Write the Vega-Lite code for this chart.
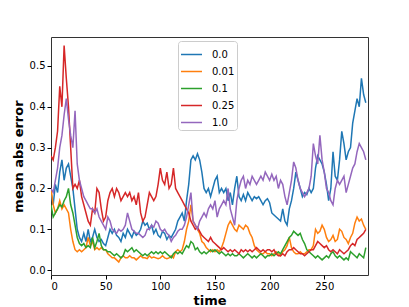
{
"$schema":"https://vega.github.io/schema/vega-lite/v6.json",
"width":317,"height":238,
"autosize":{"type":"none"},
"padding":{"left":51,"top":37,"right":41,"bottom":32},
"config":{"font":"DejaVu Sans","view":{"stroke":"#333","strokeWidth":1},"background":"white"},
"data":{"values":[
{"t":0,"a":0.19,"b":0.2,"c":0.16,"d":0.28,"e":0.2},
{"t":2,"a":0.16,"b":0.16,"c":0.13,"d":0.27,"e":0.19},
{"t":4,"a":0.21,"b":0.14,"c":0.14,"d":0.3,"e":0.22},
{"t":6,"a":0.19,"b":0.15,"c":0.15,"d":0.34,"e":0.25},
{"t":8,"a":0.24,"b":0.17,"c":0.16,"d":0.45,"e":0.3},
{"t":10,"a":0.27,"b":0.15,"c":0.155,"d":0.4,"e":0.33},
{"t":12,"a":0.22,"b":0.16,"c":0.17,"d":0.55,"e":0.38},
{"t":14,"a":0.25,"b":0.15,"c":0.18,"d":0.47,"e":0.42},
{"t":16,"a":0.26,"b":0.14,"c":0.2,"d":0.4,"e":0.37},
{"t":18,"a":0.23,"b":0.1,"c":0.16,"d":0.3,"e":0.33},
{"t":20,"a":0.2,"b":0.07,"c":0.14,"d":0.2,"e":0.3},
{"t":22,"a":0.15,"b":0.05,"c":0.11,"d":0.21,"e":0.39},
{"t":24,"a":0.1,"b":0.045,"c":0.08,"d":0.2,"e":0.26},
{"t":26,"a":0.08,"b":0.05,"c":0.065,"d":0.22,"e":0.22},
{"t":28,"a":0.07,"b":0.045,"c":0.06,"d":0.18,"e":0.2},
{"t":30,"a":0.09,"b":0.05,"c":0.065,"d":0.16,"e":0.18},
{"t":32,"a":0.07,"b":0.055,"c":0.055,"d":0.14,"e":0.17},
{"t":34,"a":0.1,"b":0.08,"c":0.06,"d":0.12,"e":0.16},
{"t":36,"a":0.07,"b":0.06,"c":0.055,"d":0.11,"e":0.15},
{"t":38,"a":0.08,"b":0.07,"c":0.08,"d":0.15,"e":0.15},
{"t":40,"a":0.1,"b":0.05,"c":0.055,"d":0.14,"e":0.14},
{"t":42,"a":0.08,"b":0.055,"c":0.07,"d":0.2,"e":0.15},
{"t":44,"a":0.07,"b":0.05,"c":0.09,"d":0.19,"e":0.13},
{"t":46,"a":0.075,"b":0.055,"c":0.06,"d":0.15,"e":0.12},
{"t":48,"a":0.065,"b":0.05,"c":0.05,"d":0.12,"e":0.11},
{"t":50,"a":0.06,"b":0.05,"c":0.05,"d":0.13,"e":0.1},
{"t":52,"a":0.08,"b":0.04,"c":0.045,"d":0.17,"e":0.13},
{"t":54,"a":0.1,"b":0.035,"c":0.045,"d":0.19,"e":0.12},
{"t":56,"a":0.09,"b":0.03,"c":0.04,"d":0.2,"e":0.1},
{"t":58,"a":0.1,"b":0.03,"c":0.035,"d":0.18,"e":0.095},
{"t":60,"a":0.085,"b":0.025,"c":0.04,"d":0.2,"e":0.09},
{"t":62,"a":0.08,"b":0.02,"c":0.035,"d":0.19,"e":0.1},
{"t":64,"a":0.07,"b":0.03,"c":0.03,"d":0.17,"e":0.095},
{"t":66,"a":0.09,"b":0.035,"c":0.035,"d":0.18,"e":0.1},
{"t":68,"a":0.08,"b":0.03,"c":0.05,"d":0.19,"e":0.11},
{"t":70,"a":0.1,"b":0.03,"c":0.045,"d":0.18,"e":0.14},
{"t":72,"a":0.09,"b":0.035,"c":0.05,"d":0.19,"e":0.12},
{"t":74,"a":0.08,"b":0.03,"c":0.055,"d":0.17,"e":0.1},
{"t":76,"a":0.095,"b":0.03,"c":0.045,"d":0.18,"e":0.095},
{"t":78,"a":0.085,"b":0.025,"c":0.05,"d":0.16,"e":0.09},
{"t":80,"a":0.09,"b":0.03,"c":0.045,"d":0.19,"e":0.09},
{"t":82,"a":0.1,"b":0.035,"c":0.04,"d":0.14,"e":0.085},
{"t":84,"a":0.12,"b":0.03,"c":0.035,"d":0.12,"e":0.08},
{"t":86,"a":0.11,"b":0.03,"c":0.04,"d":0.13,"e":0.085},
{"t":88,"a":0.115,"b":0.028,"c":0.035,"d":0.16,"e":0.1},
{"t":90,"a":0.1,"b":0.035,"c":0.04,"d":0.19,"e":0.1},
{"t":92,"a":0.11,"b":0.03,"c":0.045,"d":0.18,"e":0.11},
{"t":94,"a":0.09,"b":0.032,"c":0.04,"d":0.17,"e":0.105},
{"t":96,"a":0.1,"b":0.03,"c":0.045,"d":0.18,"e":0.12},
{"t":98,"a":0.085,"b":0.028,"c":0.04,"d":0.21,"e":0.115},
{"t":100,"a":0.08,"b":0.03,"c":0.045,"d":0.25,"e":0.1},
{"t":102,"a":0.095,"b":0.035,"c":0.04,"d":0.22,"e":0.095},
{"t":104,"a":0.09,"b":0.03,"c":0.045,"d":0.21,"e":0.1},
{"t":106,"a":0.075,"b":0.028,"c":0.04,"d":0.24,"e":0.09},
{"t":108,"a":0.085,"b":0.03,"c":0.035,"d":0.2,"e":0.085},
{"t":110,"a":0.08,"b":0.035,"c":0.03,"d":0.21,"e":0.07},
{"t":112,"a":0.09,"b":0.03,"c":0.04,"d":0.25,"e":0.08},
{"t":114,"a":0.1,"b":0.045,"c":0.045,"d":0.2,"e":0.085},
{"t":116,"a":0.12,"b":0.05,"c":0.04,"d":0.19,"e":0.095},
{"t":118,"a":0.13,"b":0.045,"c":0.045,"d":0.18,"e":0.1},
{"t":120,"a":0.14,"b":0.05,"c":0.04,"d":0.17,"e":0.1},
{"t":122,"a":0.12,"b":0.07,"c":0.05,"d":0.16,"e":0.11},
{"t":124,"a":0.17,"b":0.1,"c":0.06,"d":0.15,"e":0.13},
{"t":126,"a":0.21,"b":0.12,"c":0.055,"d":0.14,"e":0.16},
{"t":128,"a":0.27,"b":0.16,"c":0.07,"d":0.12,"e":0.19},
{"t":130,"a":0.28,"b":0.12,"c":0.065,"d":0.11,"e":0.12},
{"t":132,"a":0.27,"b":0.11,"c":0.05,"d":0.1,"e":0.11},
{"t":134,"a":0.285,"b":0.1,"c":0.055,"d":0.105,"e":0.1},
{"t":136,"a":0.27,"b":0.09,"c":0.045,"d":0.095,"e":0.12},
{"t":138,"a":0.24,"b":0.07,"c":0.04,"d":0.085,"e":0.13},
{"t":140,"a":0.2,"b":0.065,"c":0.045,"d":0.08,"e":0.14},
{"t":142,"a":0.19,"b":0.055,"c":0.04,"d":0.075,"e":0.13},
{"t":144,"a":0.2,"b":0.05,"c":0.045,"d":0.07,"e":0.15},
{"t":146,"a":0.18,"b":0.045,"c":0.05,"d":0.08,"e":0.16},
{"t":148,"a":0.2,"b":0.05,"c":0.045,"d":0.07,"e":0.15},
{"t":150,"a":0.22,"b":0.045,"c":0.05,"d":0.065,"e":0.17},
{"t":152,"a":0.23,"b":0.05,"c":0.045,"d":0.06,"e":0.13},
{"t":154,"a":0.19,"b":0.045,"c":0.04,"d":0.055,"e":0.15},
{"t":156,"a":0.2,"b":0.055,"c":0.045,"d":0.05,"e":0.16},
{"t":158,"a":0.19,"b":0.07,"c":0.04,"d":0.055,"e":0.17},
{"t":160,"a":0.2,"b":0.09,"c":0.035,"d":0.05,"e":0.16},
{"t":162,"a":0.17,"b":0.11,"c":0.04,"d":0.045,"e":0.2},
{"t":164,"a":0.19,"b":0.12,"c":0.035,"d":0.05,"e":0.15},
{"t":166,"a":0.16,"b":0.11,"c":0.04,"d":0.045,"e":0.13},
{"t":168,"a":0.2,"b":0.1,"c":0.035,"d":0.05,"e":0.11},
{"t":170,"a":0.23,"b":0.095,"c":0.035,"d":0.045,"e":0.17},
{"t":172,"a":0.18,"b":0.11,"c":0.04,"d":0.04,"e":0.2},
{"t":174,"a":0.17,"b":0.105,"c":0.035,"d":0.05,"e":0.22},
{"t":176,"a":0.185,"b":0.1,"c":0.03,"d":0.045,"e":0.23},
{"t":178,"a":0.17,"b":0.11,"c":0.035,"d":0.05,"e":0.2},
{"t":180,"a":0.19,"b":0.105,"c":0.04,"d":0.045,"e":0.22},
{"t":182,"a":0.18,"b":0.09,"c":0.035,"d":0.05,"e":0.21},
{"t":184,"a":0.17,"b":0.08,"c":0.03,"d":0.045,"e":0.23},
{"t":186,"a":0.18,"b":0.06,"c":0.035,"d":0.05,"e":0.22},
{"t":188,"a":0.175,"b":0.05,"c":0.03,"d":0.055,"e":0.21},
{"t":190,"a":0.18,"b":0.045,"c":0.035,"d":0.05,"e":0.22},
{"t":192,"a":0.17,"b":0.04,"c":0.04,"d":0.045,"e":0.23},
{"t":194,"a":0.16,"b":0.04,"c":0.035,"d":0.05,"e":0.22},
{"t":196,"a":0.17,"b":0.045,"c":0.03,"d":0.045,"e":0.24},
{"t":198,"a":0.175,"b":0.04,"c":0.035,"d":0.05,"e":0.23},
{"t":200,"a":0.165,"b":0.04,"c":0.035,"d":0.05,"e":0.22},
{"t":202,"a":0.14,"b":0.035,"c":0.04,"d":0.045,"e":0.235},
{"t":204,"a":0.135,"b":0.04,"c":0.035,"d":0.05,"e":0.22},
{"t":206,"a":0.13,"b":0.045,"c":0.04,"d":0.04,"e":0.23},
{"t":208,"a":0.125,"b":0.04,"c":0.045,"d":0.035,"e":0.2},
{"t":210,"a":0.12,"b":0.035,"c":0.04,"d":0.035,"e":0.22},
{"t":212,"a":0.15,"b":0.045,"c":0.05,"d":0.04,"e":0.21},
{"t":214,"a":0.12,"b":0.05,"c":0.06,"d":0.035,"e":0.18},
{"t":216,"a":0.11,"b":0.06,"c":0.07,"d":0.045,"e":0.16},
{"t":218,"a":0.15,"b":0.08,"c":0.08,"d":0.05,"e":0.19},
{"t":220,"a":0.17,"b":0.055,"c":0.085,"d":0.05,"e":0.22},
{"t":222,"a":0.2,"b":0.045,"c":0.095,"d":0.055,"e":0.265},
{"t":224,"a":0.24,"b":0.04,"c":0.09,"d":0.05,"e":0.25},
{"t":226,"a":0.22,"b":0.04,"c":0.085,"d":0.045,"e":0.22},
{"t":228,"a":0.2,"b":0.045,"c":0.09,"d":0.04,"e":0.2},
{"t":230,"a":0.18,"b":0.04,"c":0.075,"d":0.04,"e":0.19},
{"t":232,"a":0.19,"b":0.04,"c":0.065,"d":0.035,"e":0.18},
{"t":234,"a":0.185,"b":0.045,"c":0.05,"d":0.04,"e":0.19},
{"t":236,"a":0.2,"b":0.05,"c":0.045,"d":0.045,"e":0.2},
{"t":238,"a":0.19,"b":0.05,"c":0.04,"d":0.05,"e":0.23},
{"t":240,"a":0.2,"b":0.06,"c":0.035,"d":0.05,"e":0.31},
{"t":242,"a":0.25,"b":0.1,"c":0.03,"d":0.06,"e":0.28},
{"t":244,"a":0.28,"b":0.09,"c":0.035,"d":0.07,"e":0.26},
{"t":246,"a":0.27,"b":0.095,"c":0.03,"d":0.065,"e":0.33},
{"t":248,"a":0.26,"b":0.11,"c":0.025,"d":0.06,"e":0.27},
{"t":250,"a":0.24,"b":0.1,"c":0.03,"d":0.055,"e":0.24},
{"t":252,"a":0.21,"b":0.08,"c":0.035,"d":0.06,"e":0.2},
{"t":254,"a":0.17,"b":0.07,"c":0.03,"d":0.05,"e":0.19},
{"t":256,"a":0.2,"b":0.075,"c":0.04,"d":0.045,"e":0.17},
{"t":258,"a":0.29,"b":0.085,"c":0.045,"d":0.05,"e":0.16},
{"t":260,"a":0.23,"b":0.07,"c":0.035,"d":0.045,"e":0.2},
{"t":262,"a":0.22,"b":0.075,"c":0.03,"d":0.04,"e":0.22},
{"t":264,"a":0.27,"b":0.1,"c":0.035,"d":0.05,"e":0.21},
{"t":266,"a":0.34,"b":0.095,"c":0.03,"d":0.045,"e":0.22},
{"t":268,"a":0.31,"b":0.08,"c":0.025,"d":0.04,"e":0.23},
{"t":270,"a":0.27,"b":0.075,"c":0.03,"d":0.045,"e":0.19},
{"t":272,"a":0.29,"b":0.065,"c":0.025,"d":0.05,"e":0.21},
{"t":274,"a":0.3,"b":0.08,"c":0.045,"d":0.06,"e":0.23},
{"t":276,"a":0.36,"b":0.09,"c":0.04,"d":0.065,"e":0.25},
{"t":278,"a":0.39,"b":0.115,"c":0.035,"d":0.06,"e":0.26},
{"t":280,"a":0.42,"b":0.13,"c":0.03,"d":0.075,"e":0.29},
{"t":282,"a":0.4,"b":0.12,"c":0.04,"d":0.08,"e":0.31},
{"t":284,"a":0.47,"b":0.125,"c":0.035,"d":0.085,"e":0.3},
{"t":286,"a":0.43,"b":0.11,"c":0.03,"d":0.09,"e":0.29},
{"t":288,"a":0.41,"b":0.1,"c":0.055,"d":0.1,"e":0.27}
]},
"transform":[{"fold":["a","b","c","d","e"],"as":["series","error"]}],
"mark":{"type":"line","strokeWidth":1.5,"clip":true},
"encoding":{
"x":{"field":"t","type":"quantitative","scale":{"domain":[0,290],"nice":false,"zero":false},
"axis":{"values":[0,50,100,150,200,250],"title":"time","titleFontSize":13,"titleFontWeight":"bold","titleColor":"black","titlePadding":3,"labelFontSize":10,"labelColor":"black","labelPadding":2,"tickColor":"black","tickSize":4,"domain":false,"grid":false}},
"y":{"field":"error","type":"quantitative","scale":{"domain":[-0.012,0.571],"nice":false,"zero":false},
"axis":{"values":[0,0.1,0.2,0.3,0.4,0.5],"format":".1f","title":"mean abs error","titleFontSize":13,"titleFontWeight":"bold","titleColor":"black","titlePadding":4,"labelFontSize":10,"labelColor":"black","labelPadding":2,"tickColor":"black","tickSize":4,"domain":false,"grid":false}},
"color":{"field":"series","type":"nominal",
"scale":{"domain":["a","b","c","d","e"],"range":["#1f77b4","#ff7f0e","#2ca02c","#d62728","#9467bd"]},
"legend":{"title":null,"orient":"none","legendX":127,"legendY":4,"labelExpr":"{'a':'0.0','b':'0.01','c':'0.1','d':'0.25','e':'1.0'}[datum.label]",
"symbolType":"stroke","symbolSize":440,"symbolStrokeWidth":1.5,"labelFontSize":10,"labelColor":"black","labelOffset":9,
"rowPadding":-4,"padding":2,"strokeColor":"#cccccc","fillColor":"white","cornerRadius":3}}
}
}
